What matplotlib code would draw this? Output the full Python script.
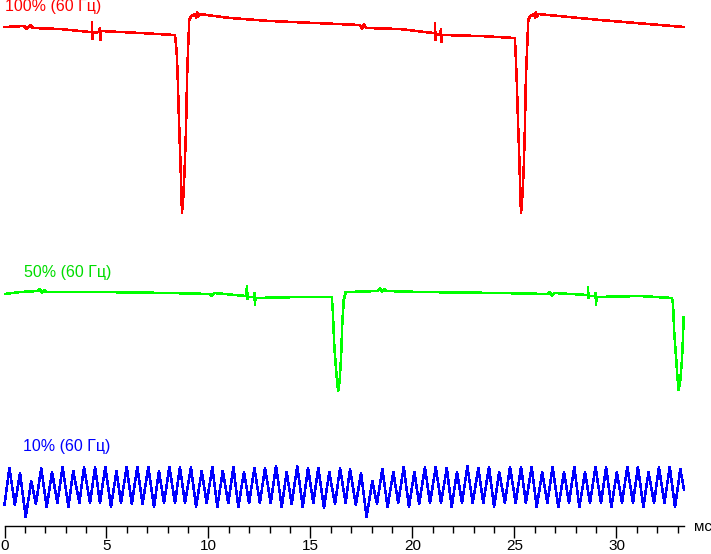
import matplotlib
matplotlib.use('Agg')
import matplotlib.pyplot as plt
from matplotlib.ticker import MultipleLocator

plt.rcParams['font.family'] = ['Liberation Sans', 'DejaVu Sans']

# время, мс / уровень сигнала (усл. ед.)
red_t = [0.00, 0.96, 1.10, 1.25, 1.40, 2.72, 4.19, 4.29, 4.29, 4.31, 4.34, 4.63, 4.68, 4.71, 4.73,
         6.64, 8.36, 8.44, 8.49, 8.55, 8.62, 8.67, 8.70, 8.76, 8.83, 8.90, 8.95, 9.01, 9.06, 9.18,
         9.34, 9.39, 9.44, 9.49, 9.54, 11.05, 13.01, 17.43, 17.52, 17.62, 17.72, 19.39, 21.00,
         21.10, 21.10, 21.13, 21.15, 21.35, 21.40, 21.42, 21.45, 23.31, 25.02, 25.06, 25.11, 25.17,
         25.24, 25.28, 25.32, 25.38, 25.45, 25.51, 25.56, 25.63, 25.68, 25.79, 25.96, 26.01, 26.05,
         26.10, 26.15, 29.19, 33.31]
red_v = [499, 500, 497, 501, 498, 497, 494, 494, 504, 487, 493, 494, 498, 486, 495,
         493, 491, 474, 449, 408, 366, 336, 313, 328, 356, 398, 449, 483, 507, 510,
         512, 508, 514, 509, 512, 508, 505, 501, 497, 502, 498, 497, 493,
         493, 503, 486, 492, 491, 497, 484, 491, 490, 488, 471, 446, 406,
         366, 336, 313, 328, 356, 398, 449, 483, 507, 510, 512, 508, 514,
         509, 512, 506, 499]

green_t = [0.02, 0.76, 1.64, 1.74, 1.84, 1.94, 2.03, 4.68, 8.11, 10.07, 10.17, 10.27, 11.84,
           11.89, 11.91, 11.94, 12.23, 12.25, 12.28, 12.30, 14.49, 16.04, 16.09, 16.17, 16.25,
           16.31, 16.36, 16.43, 16.50, 16.56, 16.63, 16.73, 16.85, 18.31, 18.41, 18.50, 18.60,
           18.70, 20.37, 24.29, 26.64, 26.74, 26.84, 26.94, 28.60, 28.60, 28.63, 28.65, 28.95,
           28.97, 29.00, 29.02, 31.15, 32.71, 32.77, 32.83, 32.92, 32.98, 33.05, 33.13, 33.21,
           33.26, 33.29]
green_v = [232, 234, 235, 237, 233, 236, 234, 234, 233, 232, 230, 233, 230,
           240, 227, 229, 229, 233, 221, 228, 229, 229, 216, 179, 158,
           143, 135, 146, 169, 203, 226, 234, 234, 235, 238, 234, 237,
           235, 234, 233, 232, 234, 230, 233, 231, 239, 228, 230, 230,
           233, 221, 229, 230, 228, 223, 194, 169, 151, 136, 146, 166,
           188, 209]

blue_t = [0.00, 0.24, 0.51, 0.76, 1.04, 1.31, 1.54, 1.80, 2.07, 2.33,
          2.59, 2.85, 3.13, 3.37, 3.67, 3.90, 4.19, 4.44, 4.68, 4.94,
          5.22, 5.49, 5.71, 5.99, 6.24, 6.51, 6.77, 7.05, 7.33, 7.57,
          7.82, 8.08, 8.36, 8.60, 8.85, 9.14, 9.39, 9.67, 9.91, 10.19,
          10.43, 10.70, 10.97, 11.22, 11.46, 11.74, 11.99, 12.25, 12.52, 12.77,
          13.05, 13.31, 13.59, 13.83, 14.08, 14.35, 14.62, 14.88, 15.14, 15.38,
          15.66, 15.92, 16.20, 16.45, 16.72, 16.94, 17.22, 17.48, 17.75, 18.03,
          18.26, 18.52, 18.78, 19.06, 19.30, 19.57, 19.83, 20.09, 20.33, 20.61,
          20.86, 21.14, 21.40, 21.68, 21.92, 22.18, 22.43, 22.69, 22.95, 23.23,
          23.47, 23.75, 24.00, 24.25, 24.53, 24.78, 25.06, 25.32, 25.56, 25.84,
          26.09, 26.36, 26.61, 26.87, 27.15, 27.43, 27.67, 27.93, 28.18, 28.46,
          28.70, 28.97, 29.24, 29.49, 29.75, 30.02, 30.27, 30.53, 30.81, 31.05,
          31.32, 31.57, 31.84, 32.08, 32.35, 32.61, 32.87, 33.13, 33.31]
blue_v = [21, 58, 21, 53, 9, 45, 22, 58, 19, 54,
          23, 59, 19, 55, 23, 59, 23, 59, 23, 59,
          19, 55, 23, 59, 22, 59, 22, 59, 19, 55,
          23, 59, 23, 59, 23, 59, 19, 55, 23, 59,
          19, 55, 23, 59, 19, 54, 23, 58, 23, 58,
          23, 60, 19, 54, 22, 60, 19, 58, 23, 58,
          18, 54, 22, 58, 23, 57, 21, 53, 9, 45,
          22, 57, 19, 54, 23, 59, 19, 54, 22, 59,
          23, 59, 23, 58, 19, 54, 23, 60, 23, 58,
          23, 59, 19, 54, 23, 59, 23, 59, 23, 59,
          19, 54, 23, 59, 19, 54, 23, 59, 19, 54,
          23, 59, 23, 59, 19, 54, 23, 59, 23, 59,
          19, 54, 23, 59, 23, 59, 19, 57, 36]

labels = ['100% (60 Гц)', '50% (60 Гц)', '10% (60 Гц)']

W, H = 711, 554
fig = plt.figure(figsize=(W/100, H/100), dpi=100)
ax = fig.add_axes([4.5/W, (H-526)/H, 679.5/W, 526/H])
ax.set_xlim(0, 33.31)
ax.set_ylim(0, 526)

ax.plot(red_t, red_v, color='#ff0000', lw=1.1, antialiased=False, clip_on=False)
ax.plot(green_t, green_v, color='#00ff00', lw=1.1, antialiased=False, clip_on=False)
ax.plot(blue_t, blue_v, color='#0000ff', lw=1.1, antialiased=False, clip_on=False)

for s in ['top', 'left', 'right']:
    ax.spines[s].set_visible(False)
ax.spines['bottom'].set_linewidth(1.0)
ax.set_yticks([])
ax.xaxis.set_major_locator(MultipleLocator(5))
ax.xaxis.set_minor_locator(MultipleLocator(1))
ax.tick_params(axis='x', which='major', length=8.5, width=1, labelsize=11, pad=1)
ax.tick_params(axis='x', which='minor', length=5, width=1)

fig.text(5/W, 1-7/H, labels[0], color='#ff0000', fontsize=11.5, va='center', ha='left')
fig.text(24/W, 1-273/H, labels[1], color='#00dd00', fontsize=11.5, va='center', ha='left')
fig.text(23/W, 1-446/H, labels[2], color='#0000ff', fontsize=11.5, va='center', ha='left')
fig.text(694/W, 1-527/H, 'мс', fontsize=11, va='center', ha='left')

fig.savefig('out.png', dpi=100, facecolor='white')
